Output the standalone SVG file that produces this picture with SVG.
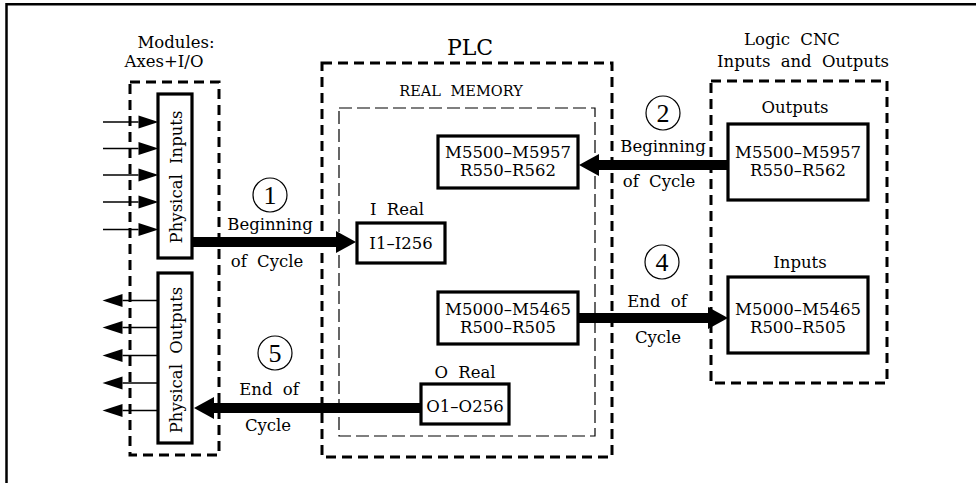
<svg xmlns="http://www.w3.org/2000/svg" width="976" height="483" viewBox="0 0 976 483">
<style>
text{font-family:"DejaVu Serif","Liberation Serif",serif;font-size:16.5px;fill:#000;text-anchor:middle;word-spacing:5px}
.big{font-size:22px}
.mem{font-size:14.5px}
.num{font-family:"Liberation Serif",serif;font-size:26px}
.group{fill:none;stroke:#000;stroke-width:3;stroke-dasharray:10 6}
.inner{fill:none;stroke:#000;stroke-width:1.2;stroke-dasharray:13 5}
.box{fill:#fff;stroke:#000;stroke-width:3.2}
.circ{fill:none;stroke:#000;stroke-width:1.2}
.flow{stroke:#000;stroke-width:10;fill:none;marker-end:url(#bigHead)}
.sig{stroke:#000;stroke-width:1.3;fill:none;marker-end:url(#smallHead)}
</style>
<defs>
<marker id="bigHead" markerUnits="userSpaceOnUse" markerWidth="20" markerHeight="22" refX="0" refY="11" orient="auto" overflow="visible">
<path d="M0,0 L20,11 L0,22 Z" fill="#000"/>
</marker>
<marker id="smallHead" markerUnits="userSpaceOnUse" markerWidth="20" markerHeight="13" refX="0" refY="6.5" orient="auto" overflow="visible">
<path d="M0,0 L20,6.5 L0,13 Z" fill="#000"/>
</marker>
</defs>
<rect width="976" height="483" fill="#fff"/>
<path d="M6.5,483 V4.2 H976" fill="none" stroke="#000" stroke-width="2.5"/>

<g id="modules">
<text x="176" y="48">Modules:</text>
<text x="164" y="67">Axes+I/O</text>
<rect class="group" x="130" y="82" width="89" height="373"/>
</g>
<g id="physical-inputs">
<rect class="box" x="158" y="94" width="34" height="164"/>
<text transform="translate(182,177) rotate(-90)" x="0" y="0">Physical Inputs</text>
</g>
<g id="physical-outputs">
<rect class="box" x="158" y="273" width="34" height="170"/>
<text transform="translate(182,360) rotate(-90)" x="0" y="0">Physical Outputs</text>
</g>

<g id="plc">
<text class="big" x="470" y="55">PLC</text>
<rect class="group" x="322" y="63" width="290" height="394"/>
</g>
<g id="real-memory">
<text class="mem" x="461" y="96">REAL MEMORY</text>
<rect class="inner" x="339" y="108" width="256" height="328"/>
</g>
<g id="plc-outputs">
<rect class="box" x="438" y="136" width="140" height="52"/>
<text x="508" y="158">M5500–M5957</text>
<text x="508" y="176">R550–R562</text>
</g>
<g id="i-real">
<text x="397" y="215">I Real</text>
<rect class="box" x="357" y="223" width="88" height="40"/>
<text x="401" y="249">I1–I256</text>
</g>
<g id="plc-inputs">
<rect class="box" x="438" y="292" width="140" height="52"/>
<text x="508" y="315">M5000–M5465</text>
<text x="508" y="333">R500–R505</text>
</g>
<g id="o-real">
<text x="465" y="378">O Real</text>
<rect class="box" x="421" y="384" width="88" height="40"/>
<text x="465" y="412">O1–O256</text>
</g>

<g id="cnc">
<text x="792" y="45">Logic CNC</text>
<text x="803" y="67">Inputs and Outputs</text>
<rect class="group" x="711" y="81" width="176" height="302"/>
</g>
<g id="cnc-outputs">
<text x="795" y="113">Outputs</text>
<rect class="box" x="728" y="124" width="140" height="76"/>
<text x="798" y="158">M5500–M5957</text>
<text x="798" y="176">R550–R562</text>
</g>
<g id="cnc-inputs">
<text x="800" y="268">Inputs</text>
<rect class="box" x="728" y="277" width="140" height="76"/>
<text x="798" y="315">M5000–M5465</text>
<text x="798" y="333">R500–R505</text>
</g>

<g id="connectors">
<line class="sig" x1="103" y1="122" x2="138.5" y2="122"/>
<line class="sig" x1="103" y1="148.5" x2="138.5" y2="148.5"/>
<line class="sig" x1="103" y1="175" x2="138.5" y2="175"/>
<line class="sig" x1="103" y1="202" x2="138.5" y2="202"/>
<line class="sig" x1="103" y1="229.5" x2="138.5" y2="229.5"/>
<line class="sig" x1="158" y1="300.5" x2="122.5" y2="300.5"/>
<line class="sig" x1="158" y1="327.5" x2="122.5" y2="327.5"/>
<line class="sig" x1="158" y1="355.5" x2="122.5" y2="355.5"/>
<line class="sig" x1="158" y1="383" x2="122.5" y2="383"/>
<line class="sig" x1="158" y1="410.5" x2="122.5" y2="410.5"/>

<line class="flow" x1="192" y1="242" x2="336" y2="242"/>
<line class="flow" x1="728" y1="165" x2="599" y2="165"/>
<line class="flow" x1="578" y1="318" x2="708" y2="318"/>
<line class="flow" x1="421" y1="408" x2="214" y2="408"/>

<g id="label-1">
<circle class="circ" cx="270" cy="195" r="17"/>
<text class="num" x="270" y="204">1</text>
<text x="270" y="230">Beginning</text>
<text x="267" y="267">of Cycle</text>
</g>
<g id="label-2">
<circle class="circ" cx="663" cy="113" r="17"/>
<text class="num" x="663" y="122">2</text>
<text x="663" y="152">Beginning</text>
<text x="659" y="187">of Cycle</text>
</g>
<g id="label-4">
<circle class="circ" cx="662" cy="262" r="17"/>
<text class="num" x="662" y="271">4</text>
<text x="657" y="307">End of</text>
<text x="658" y="343">Cycle</text>
</g>
<g id="label-5">
<circle class="circ" cx="275" cy="353" r="17"/>
<text class="num" x="275" y="362">5</text>
<text x="269" y="395">End of</text>
<text x="268" y="431">Cycle</text>
</g>
</g>
</svg>
